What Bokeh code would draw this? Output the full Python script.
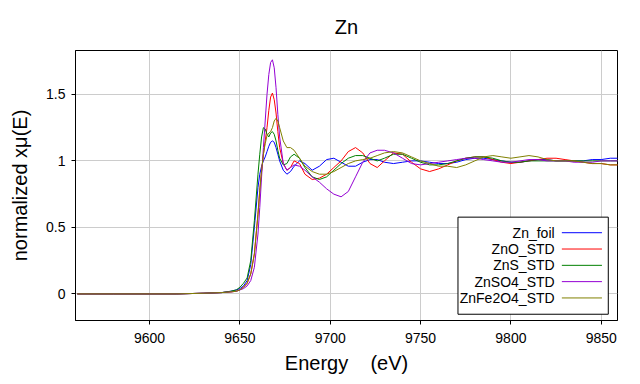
from bokeh.plotting import figure
from bokeh.models import (Range1d, FixedTicker, CustomJSTickFormatter,
                          BoxAnnotation, Label, Arrow)
from bokeh.embed import file_html
from bokeh.resources import INLINE

FONT = "Liberation Sans"

energy = [9560, 9580, 9600, 9615, 9630, 9640, 9645, 9648, 9650, 9652, 9654, 9656, 9658,
          9660, 9661, 9662, 9663, 9664, 9665, 9666, 9667, 9668, 9669, 9670, 9671, 9672,
          9674, 9676, 9678, 9680, 9683, 9686, 9690, 9694, 9698, 9702, 9706, 9710, 9714,
          9718, 9722, 9726, 9730, 9735, 9740, 9745, 9750, 9755, 9760, 9765, 9770, 9775,
          9780, 9785, 9790, 9795, 9800, 9805, 9810, 9815, 9820, 9825, 9830, 9835, 9840,
          9845, 9850, 9855, 9860]

zn_foil = [0.0, 0.0, 0.0, 0.0, 0.005, 0.01, 0.02, 0.03, 0.04, 0.06, 0.1, 0.22, 0.5,
           0.8, 0.9, 0.96, 1.0, 1.03, 1.07, 1.11, 1.14, 1.15, 1.14, 1.1, 1.05, 1.0,
           0.93, 0.9, 0.92, 0.96, 1.0, 0.98, 0.93, 0.96, 1.01, 1.02, 0.99, 0.96, 0.96,
           0.99, 1.01, 1.01, 0.99, 0.98, 0.99, 1.0, 1.0, 0.99, 0.98, 0.98, 0.99, 1.01,
           1.02, 1.02, 1.01, 1.0, 0.99, 0.99, 1.0, 1.01, 1.01, 1.0, 1.0, 1.0, 1.0,
           1.01, 1.01, 1.02, 1.02]

zno_std = [0.0, 0.0, 0.0, 0.0, 0.005, 0.01, 0.015, 0.02, 0.03, 0.05, 0.08, 0.15, 0.3,
           0.6, 0.78, 0.92, 1.05, 1.15, 1.25, 1.38, 1.48, 1.51, 1.46, 1.36, 1.22, 1.1,
           0.98, 0.93, 0.95, 1.0, 0.98, 0.9, 0.86, 0.87, 0.9, 0.95, 1.0, 1.07, 1.1,
           1.06, 0.98, 0.95, 1.0, 1.06, 1.05, 0.99, 0.94, 0.92, 0.94, 0.97, 1.0, 1.02,
           1.03, 1.03, 1.01, 0.99, 0.98, 0.99, 1.0, 1.01, 1.02, 1.02, 1.01, 1.0, 0.99,
           0.98, 0.98, 0.97, 0.97]

zns_std = [0.0, 0.0, 0.0, 0.0, 0.005, 0.01, 0.02, 0.03, 0.05, 0.08, 0.12, 0.25, 0.55,
           0.9, 1.05, 1.18, 1.25, 1.24, 1.2, 1.18, 1.21, 1.22, 1.2, 1.15, 1.08, 1.02,
           0.97, 0.98, 1.03, 1.05, 1.02, 0.95, 0.88, 0.86, 0.88, 0.93, 0.98, 1.02, 1.04,
           1.04, 1.02, 1.0, 1.02, 1.05, 1.05, 1.02, 0.99, 0.97, 0.97, 0.98, 1.0, 1.02,
           1.03, 1.03, 1.02, 1.0, 0.99, 0.99, 1.0, 1.0, 1.0, 1.0, 1.0, 1.0, 1.0,
           1.0, 1.0, 1.0, 1.0]

znso4_std = [0.0, 0.0, 0.0, 0.0, 0.005, 0.01, 0.015, 0.02, 0.03, 0.04, 0.06, 0.1, 0.2,
             0.45, 0.65, 0.88, 1.1, 1.3, 1.5, 1.65, 1.74, 1.76, 1.7, 1.55, 1.35, 1.18,
             0.98, 0.93, 0.95, 0.97, 0.96, 0.93, 0.88, 0.84, 0.79, 0.75, 0.73, 0.77, 0.88,
             0.99, 1.06, 1.08, 1.08, 1.06, 1.02, 0.98, 0.97, 0.98, 0.99, 1.0, 1.01, 1.02,
             1.02, 1.01, 1.0, 0.99, 0.99, 1.0, 1.01, 1.01, 1.0, 1.0, 1.0, 0.99, 0.99,
             0.99, 1.0, 1.0, 1.0]

znfe2o4_std = [0.0, 0.0, 0.0, 0.0, 0.005, 0.01, 0.015, 0.02, 0.03, 0.05, 0.08, 0.15, 0.3,
               0.6, 0.78, 0.93, 1.05, 1.13, 1.19, 1.21, 1.22, 1.25, 1.3, 1.32, 1.3, 1.25,
               1.15, 1.1, 1.1, 1.08, 1.02, 0.96, 0.92, 0.9, 0.9, 0.92, 0.95, 0.98, 1.0,
               1.01, 1.02, 1.04, 1.06, 1.07, 1.06, 1.03, 1.0, 0.98, 0.96, 0.96, 0.95, 0.97,
               1.0, 1.03, 1.04, 1.03, 1.02, 1.03, 1.04, 1.03, 1.01, 1.0, 1.0, 1.0, 0.99,
               0.98, 0.98, 0.97, 0.97]

series_names = ["Zn_foil", "ZnO_STD", "ZnS_STD", "ZnSO4_STD", "ZnFe2O4_STD"]
series_values = [zn_foil, zno_std, zns_std, znso4_std, znfe2o4_std]
series_colors = ["#0000ff", "#ff0000", "#008000", "#9400d3", "#808000"]

x_ticks = [9600, 9650, 9700, 9750, 9800, 9850]
y_ticks = [0, 0.5, 1, 1.5]

p = figure(width=632, height=376, output_backend="svg", toolbar_location=None,
           x_range=Range1d(9559, 9859), y_range=Range1d(-0.2, 1.83),
           min_border_left=75, min_border_right=15, min_border_top=48,
           min_border_bottom=51, title="Zn")

p.title.align = "center"
p.title.text_font = FONT
p.title.text_font_size = "20px"
p.title.text_font_style = "normal"
p.title.text_color = "black"
p.title.standoff = 26

p.background_fill_color = "white"
p.border_fill_color = "white"
p.outline_line_color = "black"
p.outline_line_width = 1
p.outline_line_alpha = 1

for name, vals, col in zip(series_names, series_values, series_colors):
    p.line(energy, vals, line_color=col, line_width=1)

p.xaxis.ticker = FixedTicker(ticks=x_ticks)
p.yaxis.ticker = FixedTicker(ticks=y_ticks)
p.yaxis.formatter = CustomJSTickFormatter(code="return String(Math.round(tick*10)/10);")
p.xaxis.formatter = CustomJSTickFormatter(code="return String(tick);")

for ax in (p.xaxis[0], p.yaxis[0]):
    ax.axis_line_color = "black"
    ax.major_tick_line_color = "black"
    ax.major_tick_out = 4
    ax.major_tick_in = 0
    ax.minor_tick_line_color = None
    ax.major_label_text_font = FONT
    ax.major_label_text_font_size = "14px"
    ax.major_label_text_color = "black"
    ax.axis_label_text_font = FONT
    ax.axis_label_text_font_size = "20px"
    ax.axis_label_text_font_style = "normal"
    ax.axis_label_text_color = "black"

p.xaxis.axis_label = "Energy\u00a0\u00a0\u00a0\u00a0(eV)"
p.yaxis.axis_label = "normalized xμ(E)"
p.xaxis.major_label_standoff = 8
p.yaxis.major_label_standoff = 6
p.xaxis.axis_label_standoff = 6
p.yaxis.axis_label_standoff = 12

p.grid.grid_line_color = "#cccccc"
p.grid.grid_line_width = 1

# legend (right-aligned labels with line samples on the right)
leg_left, leg_right, leg_top, leg_bottom = 9770.7, 9853.9, 0.577, -0.153
p.add_layout(BoxAnnotation(left=leg_left, right=leg_right, top=leg_top, bottom=leg_bottom,
                           fill_color="white", fill_alpha=1, line_color="black",
                           line_width=1, line_alpha=1))
row0, row_step = 0.46, 0.1226
for i, (name, col) in enumerate(zip(series_names, series_colors)):
    yy = row0 - i * row_step
    p.add_layout(Label(x=9824.2, y=yy, text=name, text_align="right",
                       text_baseline="middle", text_font=FONT, text_font_size="14px",
                       text_color="black"))
    p.add_layout(Arrow(x_start=9828.2, y_start=yy, x_end=9850.4, y_end=yy,
                       start=None, end=None, line_color=col, line_width=1))

open("out.html", "w").write(file_html(p, INLINE))
